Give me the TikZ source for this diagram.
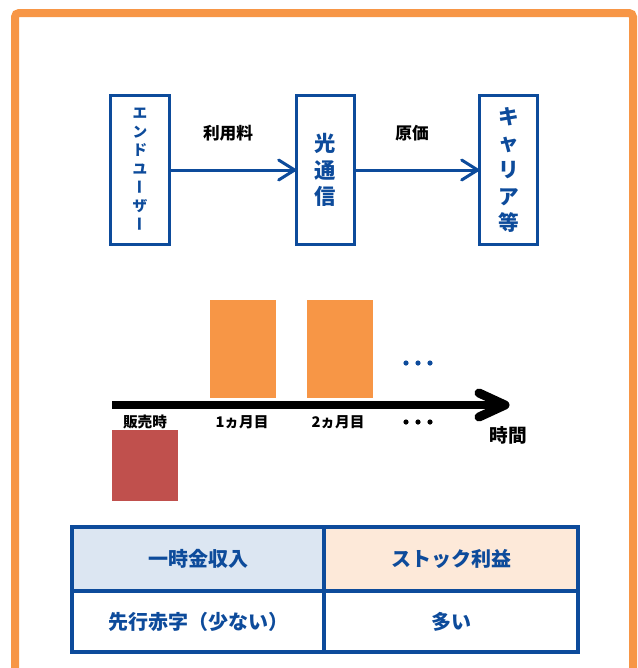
\documentclass[tikz,border=0pt]{standalone}
\usepackage{fontspec}
\setmainfont{Noto Sans CJK JP}[BoldFont={Noto Sans CJK JP Black}]

\definecolor{hblue}{RGB}{13,75,155}
\definecolor{frameorange}{RGB}{247,150,70}
\definecolor{barred}{RGB}{192,80,77}
\definecolor{hdrblue}{RGB}{220,230,242}
\definecolor{hdrorange}{RGB}{253,233,217}

\newcommand{\tatebar}{\raisebox{-0.08em}{\rotatebox{90}{\raisebox{-0.38em}[0.5em][0.5em]{ー}}}}

\tikzset{
  tatebox/.style={draw=hblue, line width=2.25pt, text=hblue, align=center, inner sep=0pt, minimum width=44pt, minimum height=112pt},
  flow/.style={draw=hblue, line width=2.25pt, line cap=round, line join=round},
  lbl/.style={inner sep=0.75pt, font=\bfseries\fontsize{11}{13}\selectfont},
  cell/.style={draw=hblue, line width=3pt, text=hblue, inner sep=0pt, font=\bfseries\fontsize{15}{17}\selectfont},
}

\begin{document}
\begin{tikzpicture}[x=0.75pt,y=0.75pt,yscale=-1,xscale=1]
\path[use as bounding box] (0,0) rectangle (638,668);

%Frame
\draw [frameorange, line width=6pt, rounded corners=3pt] (15,690) -- (15,13) -- (633,13) -- (633,690);

% Boxes
\node [tatebox, font=\bfseries\fontsize{11}{14}\selectfont] (user) at (140,170) {エ\\ン\\ド\\ユ\\\tatebar\\ザ\\\tatebar};
\node [tatebox, font=\bfseries\fontsize{16}{20}\selectfont] (hikari) at (325.5,170) {光\\通\\信};
\node [tatebox, font=\bfseries\fontsize{15.5}{20}\selectfont] (carrier) at (508.5,170) {キ\\ャ\\リ\\ア\\等};

%Straight Lines
\draw [flow] (user) -- (hikari);
\draw [flow, shift={(hikari.west)}] (-16,-10) -- (0,0) -- (-16,10);
\draw [flow] (hikari) -- (carrier);
\draw [flow, shift={(carrier.west)}] (-16,-10) -- (0,0) -- (-16,10);

% Text Node
\node [lbl, font=\bfseries\fontsize{12.5}{14}\selectfont] (ryokin) at (228,133) {利用料};
\node [lbl, font=\bfseries\fontsize{12.5}{14}\selectfont] (genka) at (412,133) {原価};

% Bars
\fill [frameorange] (210,300) rectangle (276,398);
\fill [frameorange] (307,300) rectangle (373,398);
\fill [barred] (112,430) rectangle (178,501);
\fill [hblue] (406,363) circle (2.6) (418,363) circle (2.6) (430,363) circle (2.6);

% Time axis
\coordinate (t0) at (112,405);
\coordinate (t1) at (505,405);
\draw [line width=6pt] (t0) -- (t1);
\draw [shift={(t1)}, line width=6.75pt, line cap=round, line join=round] (-26,-12) -- (0,0) -- (-26,12);

% Text Node
\node [lbl] (hanbai) at (145,422) {販売時};
\node [lbl] (month1) at (242,422) {1ヵ月目};
\node [lbl] (month2) at (338,422) {2ヵ月目};
\fill (406,422) circle (2.6) (418,422) circle (2.6) (430,422) circle (2.6);
\node [lbl, font=\bfseries\fontsize{14}{16}\selectfont] (jikan) at (508,435) {時間};

% Table
\node [cell, fill=hdrblue, minimum width=189pt, minimum height=48pt] (ichiji) at (198,559) {一時金収入};
\node [cell, fill=hdrorange, minimum width=190.5pt, minimum height=48pt] (stock) at (451,559) {ストック利益};
\node [cell, minimum width=189pt, minimum height=45.75pt] (akaji) at (198,621.5) {先行赤字（少ない）};
\node [cell, minimum width=190.5pt, minimum height=45.75pt] (ooi) at (451,621.5) {多い};

\end{tikzpicture}
\end{document}
